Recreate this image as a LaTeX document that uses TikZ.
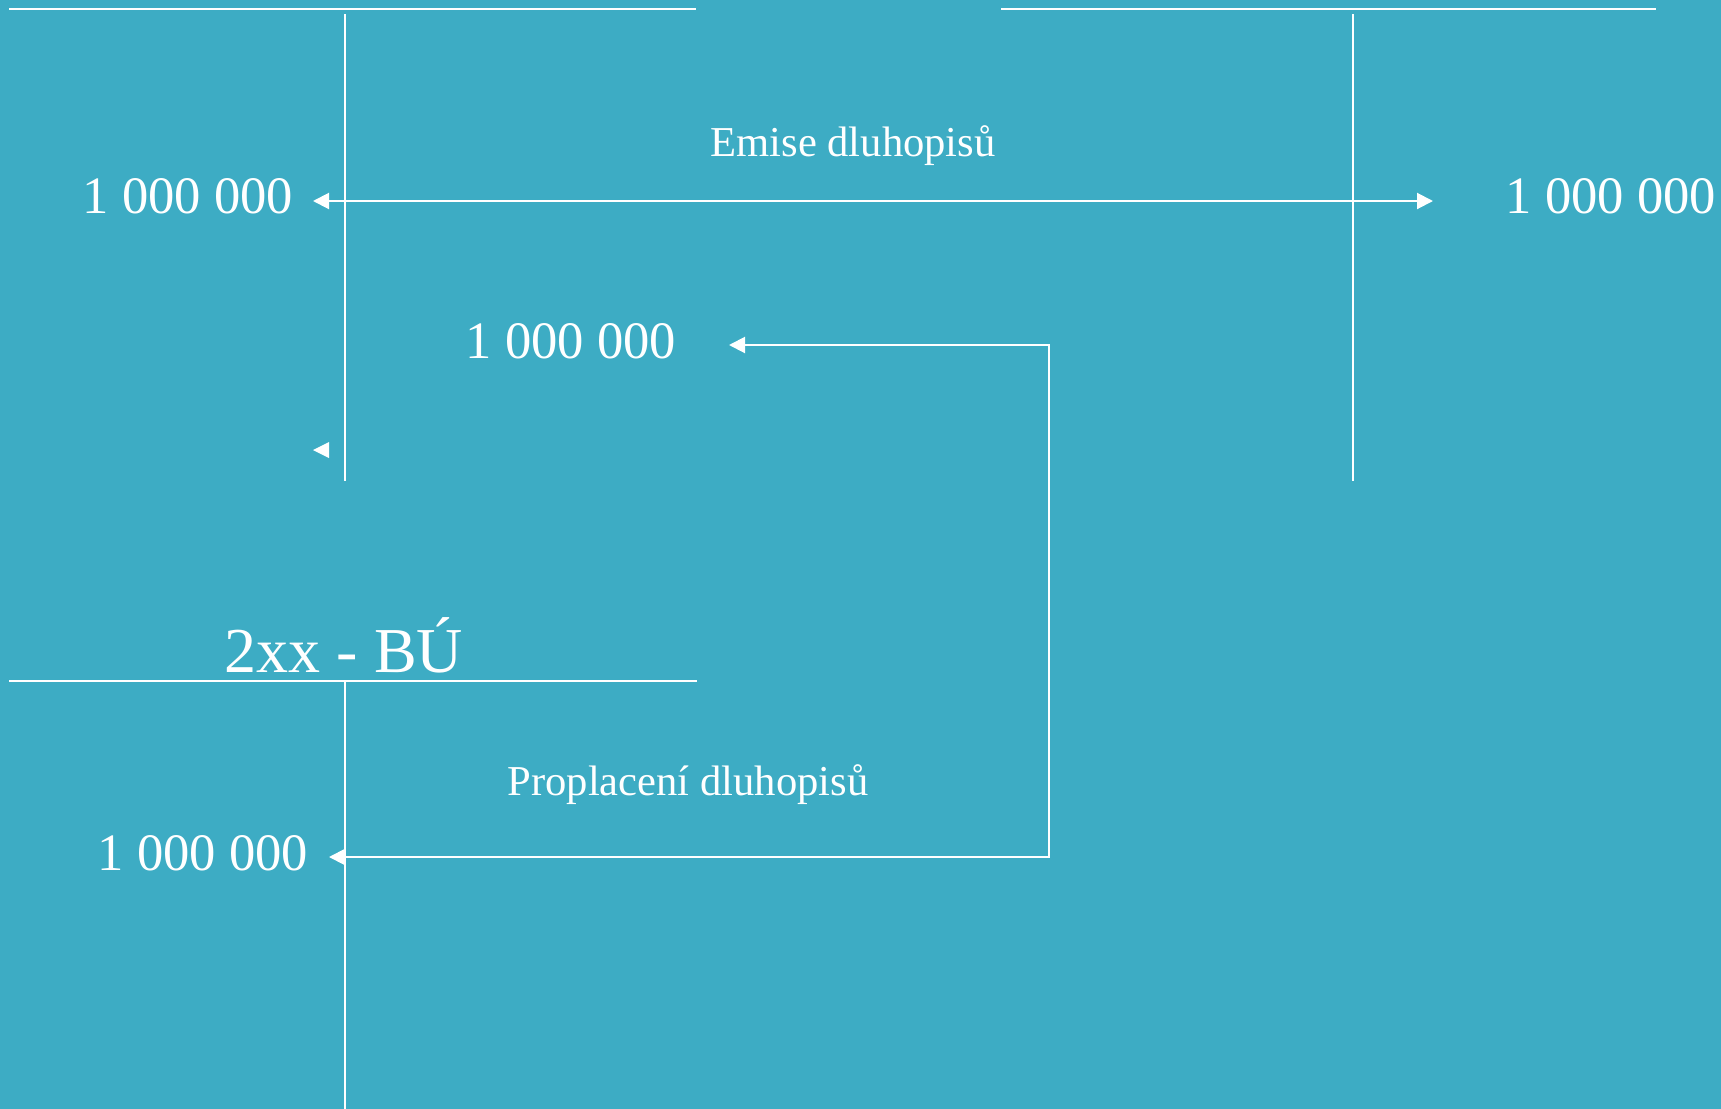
\documentclass[tikz,border=0pt]{standalone}
\usepackage{fontspec}
\setmainfont{Liberation Serif}
\usetikzlibrary{arrows.meta}
\definecolor{bgc}{RGB}{61,172,196}
\begin{document}
\begin{tikzpicture}[x=0.5pt,y=-0.5pt,
  ln/.style={draw=white,line width=1pt},
  darr/.style={ln,{Triangle[length=8pt,width=8pt]}-{Triangle[length=8pt,width=8pt]}},
  num/.style={text=white,inner sep=0pt,anchor=base,font=\fontsize{26.3pt}{30pt}\selectfont},
  lbl/.style={text=white,inner sep=0pt,anchor=base,font=\fontsize{21.3pt}{25pt}\selectfont},
  ttl/.style={text=white,inner sep=0pt,anchor=base,font=\fontsize{32pt}{36pt}\selectfont}]
\fill[bgc] (0,0) rectangle (1721,1109);
\useasboundingbox (0,0) rectangle (1721,1109);
% account T lines
\draw[ln] (9,9) -- (696,9);
\draw[ln] (345,14) -- (345,481);
\draw[ln] (1001,9) -- (1656,9);
\draw[ln] (1353,14) -- (1353,481);
\draw[ln] (9,681) -- (697,681);
\draw[ln] (345,681) -- (345,1109);
% texts
\node[num] (n1) at (188,213) {1 000 000};
\node[num] (n2) at (1611,213) {1 000 000};
\node[num] (n3) at (571,358) {1 000 000};
\node[num] (n4) at (203,870) {1 000 000};
\node[lbl] (emise) at (853,156) {Emise dluhopisů};
\node[lbl] (propl) at (688,795) {Proplacení dluhopisů};
\node[ttl] (bu) at (344,672) {2xx - BÚ};
% connectors
\coordinate (a1) at (313,201);
\coordinate (a2) at (1433,201);
\draw[darr] (a1) -- (a2);
\coordinate (b1) at (729,345);
\coordinate (b2) at (1049,345);
\coordinate (b3) at (1049,857);
\coordinate (b4) at (329,857);
\draw[darr] (b1) -- (b2) -- (b3) -- (b4);
% isolated arrowhead
\fill[white] (313,450) -- (329,442) -- (329,458) -- cycle;
\end{tikzpicture}
\end{document}
